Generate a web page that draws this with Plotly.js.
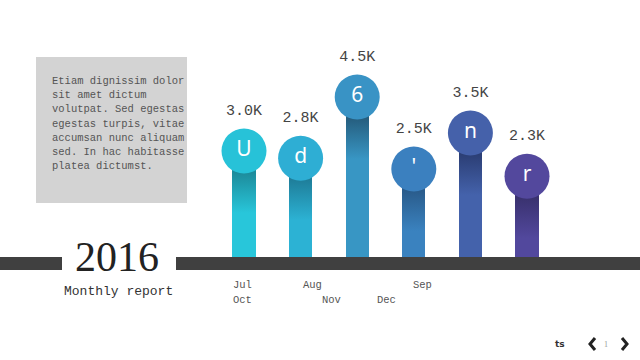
<!DOCTYPE html>
<html>
<head>
<meta charset="utf-8">
<script src="https://cdn.plot.ly/plotly-3.0.1.min.js"></script>
<style>
html,body{margin:0;padding:0;background:#fff;}
#chart{width:640px;height:360px;}
</style>
</head>
<body>
<div id="chart"></div>
<script>
// ---- data ----
var categories = ['Jul', 'Aug', 'Sep', 'Oct', 'Nov', 'Dec'];
var values = [3.0, 2.8, 4.5, 2.5, 3.5, 2.3];          // thousands
var valueLabels = ['3.0K', '2.8K', '4.5K', '2.5K', '3.5K', '2.3K'];
var circleLetters = ['U', 'd', '6', '\'', 'n', 'r'];
var monthRow1 = ['Jul', 'Aug', 'Sep'];
var monthRow2 = ['Oct', 'Nov', 'Dec'];
var yearLabel = '2016';
var subtitle = 'Monthly report';
var boxLines = ['Etiam dignissim dolor', 'sit amet dictum', 'volutpat. Sed egestas',
  'egestas turpis, vitae', 'accumsan nunc aliquam', 'sed. In hac habitasse', 'platea dictumst.'];
var pageText = 'ts';
var pageNum = '1';

// ---- styles ----
var circleColors = ['#27c2d8', '#2eaed4', '#3993c5', '#3b80bf', '#4561aa', '#53489d'];
var barLight = ['#28c6da', '#2cb2d4', '#3896c4', '#3a82bf', '#4462ab', '#52489d'];
var barDark  = ['#1d8c9c', '#1f7f9b', '#265f80', '#2a5c8c', '#2c3f76', '#3a3270'];

var W = 640, H = 360;
var pxPerX = 56.6, x0px = 244;
var pxPerY = 36, y0px = 259;

var traces = [
  {
    type: 'bar', x: categories, y: values, width: 0.41,
    marker: {color: barLight, line: {width: 0}},
    hoverinfo: 'skip', showlegend: false
  },
  {
    type: 'scatter', mode: 'markers+text', x: categories, y: values,
    text: valueLabels, textposition: 'top center',
    textfont: {family: 'Liberation Mono, monospace', size: 15, color: '#444'},
    marker: {size: 50, color: 'rgba(0,0,0,0)'},
    hoverinfo: 'skip', showlegend: false
  },
  {
    type: 'scatter', mode: 'markers+text', x: categories, y: values,
    text: circleLetters, textposition: 'middle center',
    textfont: {family: 'Noto Sans, DejaVu Sans, sans-serif', size: 21, color: '#ffffff'},
    marker: {size: 45, color: circleColors, line: {width: 0}},
    hoverinfo: 'skip', showlegend: false
  }
];

function px2x(p){ return p / W; }
function px2y(p){ return 1 - p / H; }

var annotations = [];
boxLines.forEach(function(t, i){
  annotations.push({xref:'paper', yref:'paper', x: px2x(50), y: px2y(81 + i*14.2),
    xanchor:'left', yanchor:'middle', text: t, showarrow:false,
    font:{family:'Liberation Mono, monospace', size:10.5, color:'#555'}});
});
annotations.push({xref:'paper', yref:'paper', x: px2x(117), y: px2y(257), xanchor:'center', yanchor:'middle',
  text: yearLabel, showarrow:false, font:{family:'Liberation Serif, serif', size:42, color:'#222'}});
annotations.push({xref:'paper', yref:'paper', x: px2x(118), y: px2y(291), xanchor:'center', yanchor:'middle',
  text: subtitle, showarrow:false, font:{family:'Liberation Mono, monospace', size:13, color:'#333'}});
var row1X = [242, 312, 422], row2X = [242, 331, 386];
monthRow1.forEach(function(t, i){
  annotations.push({xref:'paper', yref:'paper', x: px2x(row1X[i]), y: px2y(285), xanchor:'center', yanchor:'middle',
    text: t, showarrow:false, font:{family:'Liberation Mono, monospace', size:10.5, color:'#555'}});
});
monthRow2.forEach(function(t, i){
  annotations.push({xref:'paper', yref:'paper', x: px2x(row2X[i]), y: px2y(300), xanchor:'center', yanchor:'middle',
    text: t, showarrow:false, font:{family:'Liberation Mono, monospace', size:10.5, color:'#555'}});
});
annotations.push({xref:'paper', yref:'paper', x: px2x(560), y: px2y(344), xanchor:'center', yanchor:'middle',
  text: '<b>' + pageText + '</b>', showarrow:false, font:{family:'DejaVu Sans, sans-serif', size:9, color:'#333'}});
annotations.push({xref:'paper', yref:'paper', x: px2x(606), y: px2y(344), xanchor:'center', yanchor:'middle',
  text: pageNum, showarrow:false, font:{family:'Liberation Serif, serif', size:8, color:'#999'}});

var shapes = [
  {type:'rect', xref:'paper', yref:'paper', x0: px2x(36), x1: px2x(187), y0: px2y(203), y1: px2y(57),
    fillcolor:'#d3d3d3', line:{width:0}, layer:'below'},
  {type:'rect', xref:'paper', yref:'paper', x0: 0, x1: px2x(62), y0: px2y(270), y1: px2y(257),
    fillcolor:'#404040', line:{width:0}, layer:'above'},
  {type:'rect', xref:'paper', yref:'paper', x0: px2x(176), x1: 1, y0: px2y(270), y1: px2y(257),
    fillcolor:'#404040', line:{width:0}, layer:'above'},
  {type:'path', xref:'paper', yref:'paper', layer:'above',
    path: 'M ' + px2x(595) + ' ' + px2y(338) + ' L ' + px2x(590) + ' ' + px2y(344) + ' L ' + px2x(595) + ' ' + px2y(350),
    line:{color:'#222', width:3}},
  {type:'path', xref:'paper', yref:'paper', layer:'above',
    path: 'M ' + px2x(622) + ' ' + px2y(338) + ' L ' + px2x(627) + ' ' + px2y(344) + ' L ' + px2x(622) + ' ' + px2y(350),
    line:{color:'#222', width:3}}
];

var layout = {
  width: W, height: H,
  margin: {l:0, r:0, t:0, b:0, pad:0},
  paper_bgcolor:'#ffffff', plot_bgcolor:'rgba(0,0,0,0)',
  xaxis: {type:'category', categoryorder:'array', categoryarray: categories,
    range: [-x0px/pxPerX, 5 + (W - (x0px + 5*pxPerX))/pxPerX],
    visible:false, fixedrange:true},
  yaxis: {range: [-(H - y0px)/pxPerY, y0px/pxPerY], visible:false, fixedrange:true},
  showlegend:false,
  annotations: annotations,
  shapes: shapes,
  bargap: 0
};

Plotly.newPlot('chart', traces, layout, {staticPlot:true, displayModeBar:false}).then(function(gd){
  // vertical gradient on each stem
  var svg = gd.querySelector('svg.main-svg');
  var defs = svg.querySelector('defs');
  var NS = 'http://www.w3.org/2000/svg';
  var paths = gd.querySelectorAll('.barlayer .point path');
  paths.forEach(function(p, i){
    var bb = p.getBBox();
    var g = document.createElementNS(NS, 'linearGradient');
    g.setAttribute('id', 'stemgrad' + i);
    g.setAttribute('x1', '0'); g.setAttribute('y1', '0');
    g.setAttribute('x2', '0'); g.setAttribute('y2', '1');
    var h = bb.height;
    var s1 = Math.min(0.9, 22 / h), s2 = Math.min(0.95, 62 / h);
    [[0, barDark[i]], [s1, barDark[i]], [s2, barLight[i]], [1, barLight[i]]].forEach(function(s){
      var st = document.createElementNS(NS, 'stop');
      st.setAttribute('offset', s[0]);
      st.setAttribute('stop-color', s[1]);
      g.appendChild(st);
    });
    defs.appendChild(g);
    p.style.fill = 'url(#stemgrad' + i + ')';
  });
});
</script>
</body>
</html>
